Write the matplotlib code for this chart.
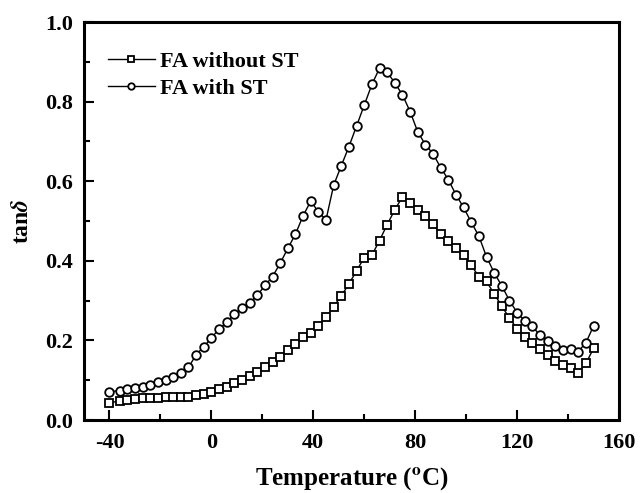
import matplotlib
matplotlib.use("Agg")
import matplotlib.pyplot as plt
from matplotlib.ticker import MultipleLocator

plt.rcParams['font.family'] = ['Liberation Serif', 'DejaVu Serif']
plt.rcParams['font.weight'] = 'bold'
plt.rcParams['mathtext.fontset'] = 'stix'

temperature = [-40] + list(range(-36, 151, 3))

fa_without_st = [
    0.043, 0.048, 0.050, 0.054, 0.056, 0.056, 0.056, 0.057, 0.057, 0.058,
    0.059, 0.062, 0.065, 0.071, 0.079, 0.084, 0.092, 0.100, 0.111, 0.121,
    0.132, 0.145, 0.158, 0.175, 0.190, 0.208, 0.219, 0.236, 0.258, 0.285,
    0.312, 0.342, 0.375, 0.408, 0.414, 0.451, 0.491, 0.528, 0.561, 0.546,
    0.528, 0.513, 0.492, 0.467, 0.450, 0.433, 0.415, 0.389, 0.360, 0.348,
    0.317, 0.286, 0.256, 0.229, 0.209, 0.193, 0.178, 0.163, 0.148, 0.138,
    0.130, 0.119, 0.142, 0.180,
]

fa_with_st = [
    0.071, 0.074, 0.077, 0.080, 0.083, 0.088, 0.095, 0.100, 0.107, 0.119,
    0.132, 0.164, 0.184, 0.206, 0.229, 0.245, 0.266, 0.281, 0.295, 0.313,
    0.338, 0.360, 0.394, 0.431, 0.467, 0.513, 0.550, 0.523, 0.503, 0.590,
    0.639, 0.687, 0.739, 0.791, 0.843, 0.884, 0.874, 0.847, 0.817, 0.775,
    0.724, 0.692, 0.669, 0.634, 0.604, 0.566, 0.534, 0.497, 0.462, 0.410,
    0.370, 0.337, 0.300, 0.270, 0.249, 0.235, 0.213, 0.198, 0.186, 0.176,
    0.178, 0.172, 0.194, 0.236,
]

x_ticks = [-40, 0, 40, 80, 120, 160]
y_ticks = [0.0, 0.2, 0.4, 0.6, 0.8, 1.0]

fig = plt.figure(figsize=(6.4, 4.93), dpi=100)
ax = fig.add_axes([84/640, 73/493, 535/640, 398/493])

ax.plot(temperature, fa_without_st, '-', marker='s', color='black', lw=1.0,
        ms=5.5, mew=1.3, mfc='white', mec='black', label='FA without ST')
ax.plot(temperature, fa_with_st, '-', marker='o', color='black', lw=1.0,
        ms=6.2, mew=1.3, mfc='white', mec='black', label='FA with ST')

ax.set_xlim(-50, 160)
ax.set_ylim(0, 1.0)
ax.set_xticks(x_ticks)
ax.set_yticks(y_ticks)
ax.set_xticklabels([f"{t:d}" for t in x_ticks])
ax.set_yticklabels([f"{v:.1f}" for v in y_ticks])
ax.xaxis.set_minor_locator(MultipleLocator(20))
ax.yaxis.set_minor_locator(MultipleLocator(0.1))

ax.tick_params(which='both', direction='in', top=False, right=False,
               width=1.5, labelsize=16)
ax.tick_params(which='major', length=7)
ax.tick_params(which='minor', length=4)
ax.tick_params(axis='x', pad=9)
ax.tick_params(axis='y', pad=8)
for lab in ax.get_xticklabels() + ax.get_yticklabels():
    lab.set_fontweight('bold')

for sp in ax.spines.values():
    sp.set_linewidth(2.2)

ax.set_xlabel(r'Temperature ($^\mathbf{o}$C)', fontsize=18, fontweight='bold', labelpad=9)
ax.set_ylabel(r'tan$\delta$', fontsize=17, fontweight='bold', labelpad=9)

leg = ax.legend(loc='upper left', bbox_to_anchor=(0.045, 0.927), frameon=False,
                fontsize=16, handlelength=2.1, handletextpad=0.25,
                labelspacing=0.3, borderpad=0, borderaxespad=0, markerscale=0.75)
for t in leg.get_texts():
    t.set_fontweight('bold')

fig.savefig('out.png', dpi=100)
